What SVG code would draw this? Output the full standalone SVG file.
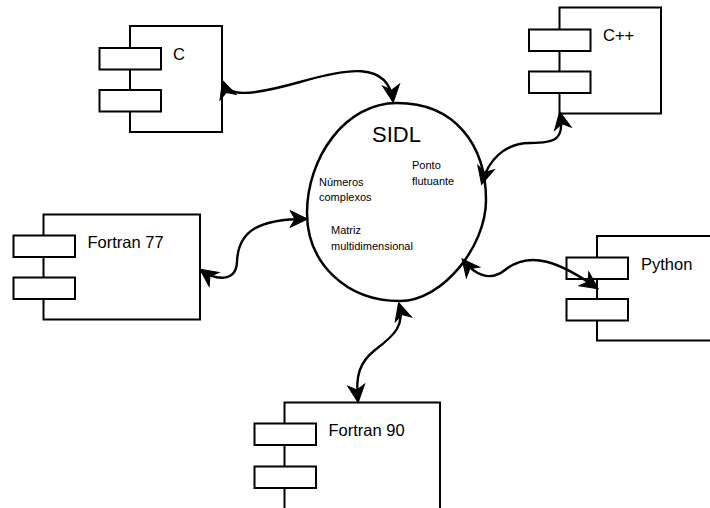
<svg xmlns="http://www.w3.org/2000/svg" width="710" height="508" viewBox="0 0 710 508">
  <style>
    .box { fill: #ffffff; stroke: #000000; stroke-width: 2; }
    .port { fill: #ffffff; stroke: #000000; stroke-width: 2; }
    .label { font-family: "Liberation Sans", Arial, sans-serif; font-size: 16.5px; fill: #000000; }
    .small { font-family: "Liberation Sans", Arial, sans-serif; font-size: 11px; fill: #000000; }
    .title { font-family: "Liberation Sans", Arial, sans-serif; font-size: 22px; fill: #000000; }
    .oval { fill: #ffffff; stroke: #000000; stroke-width: 2.5; }
    .link { fill: none; stroke: #000000; stroke-width: 2.4; marker-start: url(#head); marker-end: url(#head); }
  </style>
  <defs>
    <marker id="head" markerUnits="userSpaceOnUse" overflow="visible" markerWidth="1" markerHeight="1" refX="0" refY="0" orient="auto-start-reverse">
      <path d="M1.5,0 L-16,-8.5 L-11,0 L-16,8.5 Z" fill="#000000" stroke="#000000" stroke-width="1" stroke-linejoin="miter"/>
    </marker>
  </defs>

  <!-- central interface definition language node -->
  <g id="sidl">
    <path class="oval" d="M397,103 C455,103 486,145 486,200 C486,247 442,301 400,301 C345,301 307,262 307,213 C307,158 345,103 397,103 Z"/>
    <text class="title" x="372" y="142">SIDL</text>
    <text class="small" x="412" y="169">Ponto</text>
    <text class="small" x="412" y="185">flutuante</text>
    <text class="small" x="319" y="186">Números</text>
    <text class="small" x="319" y="201">complexos</text>
    <text class="small" x="331" y="234">Matriz</text>
    <text class="small" x="331" y="249.5">multidimensional</text>
  </g>

  <!-- language components -->
  <g id="comp-c">
    <rect class="box" x="130" y="26" width="92" height="106"/>
    <rect class="port" x="99.5" y="48" width="61.5" height="21.5"/>
    <rect class="port" x="99.5" y="90" width="61.5" height="21.5"/>
    <text class="label" x="173" y="60">C</text>
  </g>

  <g id="comp-cpp">
    <rect class="box" x="559.5" y="7.5" width="101.5" height="106"/>
    <rect class="port" x="529" y="29.5" width="61.5" height="21.5"/>
    <rect class="port" x="529" y="71.5" width="61.5" height="21.5"/>
    <text class="label" x="603" y="41">C++</text>
  </g>

  <g id="comp-f77">
    <rect class="box" x="43.5" y="214.5" width="156.5" height="105"/>
    <rect class="port" x="13.5" y="235.5" width="61.5" height="21.5"/>
    <rect class="port" x="13.5" y="277.5" width="61.5" height="21.5"/>
    <text class="label" x="87.5" y="248">Fortran 77</text>
  </g>

  <g id="comp-python">
    <rect class="box" x="597" y="236" width="125" height="104.5"/>
    <rect class="port" x="566.5" y="257.5" width="61.5" height="21.5"/>
    <rect class="port" x="566.5" y="299" width="61.5" height="21.5"/>
    <text class="label" x="641" y="270">Python</text>
  </g>

  <g id="comp-f90">
    <rect class="box" x="284.5" y="402.5" width="155.5" height="120"/>
    <rect class="port" x="254.5" y="423.5" width="61.5" height="21.5"/>
    <rect class="port" x="254.5" y="466.5" width="61.5" height="21.5"/>
    <text class="label" x="328.5" y="436">Fortran 90</text>
  </g>

  <!-- bidirectional bindings -->
  <g id="connectors">
    <path class="link" d="M223,82 C228,97 250,96 300,82 C345,69 388,60 393,101"/>
    <path class="link" d="M560,113 C565,140 555,143 530,143 C505,143 488,160 482,183"/>
    <path class="link" d="M201,270 C215,280 236,283 237,262 C238,230 260,219 306,219"/>
    <path class="link" d="M463,260 C475,275 490,282 505,270 C530,250 560,262 597,288"/>
    <path class="link" d="M399,304 C405,325 395,335 375,350 C360,362 355,375 358,401"/>
  </g>
</svg>
